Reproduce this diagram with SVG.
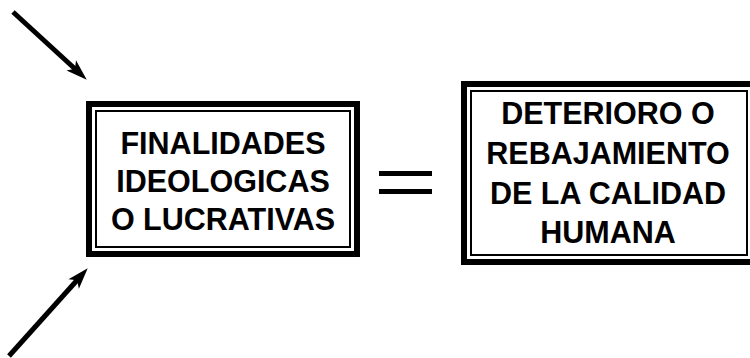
<svg xmlns="http://www.w3.org/2000/svg" width="750" height="358" viewBox="0 0 750 358">
<style>
.outer{fill:none;stroke:#000;stroke-width:6}
.inner{fill:none;stroke:#000;stroke-width:2}
.t{font-family:"Liberation Sans",Arial,sans-serif;font-weight:bold;font-size:30.5px;fill:#000;text-anchor:middle}
.arrow{stroke:#000;stroke-width:5;fill:none}
</style>
<defs>
<marker id="ah" markerUnits="userSpaceOnUse" markerWidth="26" markerHeight="18" viewBox="0 -9 23 18" refX="6" refY="0" orient="auto">
<path d="M0,-7 L21,0 L0,7 L5,0 Z" fill="#000"/>
</marker>
</defs>
<rect width="750" height="358" fill="#fff"/>
<g id="connectors">
<line class="arrow" x1="13" y1="12" x2="75.7" y2="69.5" marker-end="url(#ah)"/>
<line class="arrow" x1="9" y1="356" x2="77.7" y2="279.5" marker-end="url(#ah)"/>
</g>
<g id="node-finalidades">
<rect class="outer" x="89" y="104" width="268" height="150"/>
<rect class="inner" x="96" y="111" width="254" height="136"/>
<text class="t" x="223" y="154">FINALIDADES</text>
<text class="t" x="223" y="192">IDEOLOGICAS</text>
<text class="t" x="223" y="230">O LUCRATIVAS</text>
</g>
<g id="equals">
<rect x="379" y="171" width="53" height="5" fill="#000"/>
<rect x="379" y="189" width="53" height="5" fill="#000"/>
</g>
<g id="node-deterioro">
<rect class="outer" x="464" y="84" width="289" height="178"/>
<rect class="inner" x="471" y="91" width="276" height="164"/>
<text class="t" x="608" y="124">DETERIORO O</text>
<text class="t" x="608" y="164">REBAJAMIENTO</text>
<text class="t" x="608" y="204">DE LA CALIDAD</text>
<text class="t" x="608" y="243">HUMANA</text>
</g>
</svg>
